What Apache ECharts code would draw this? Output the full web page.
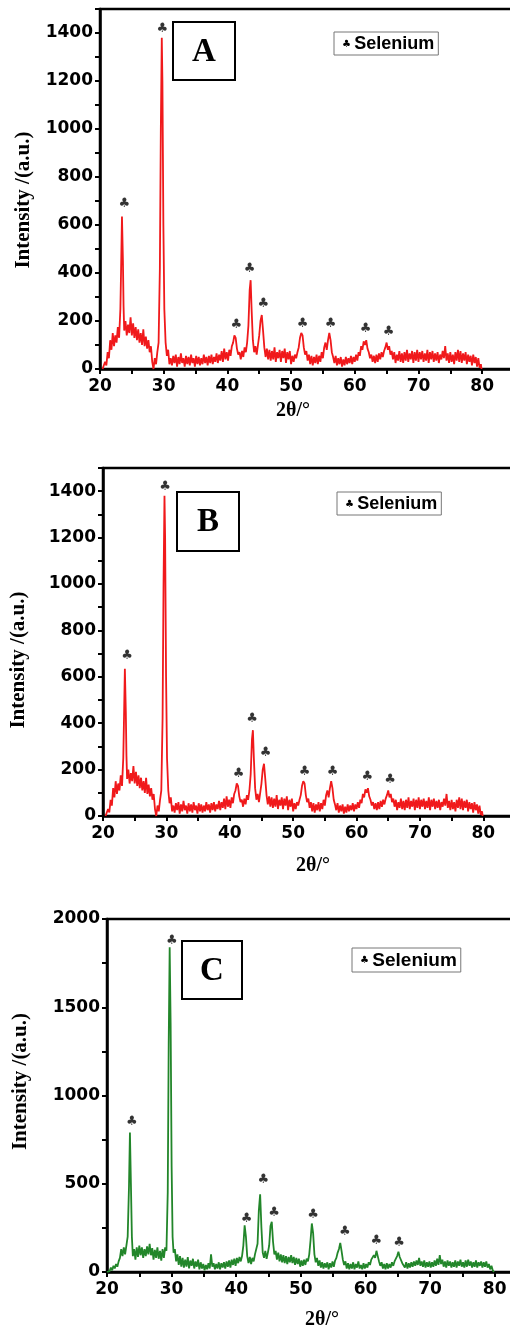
<!DOCTYPE html>
<html>
<head>
<meta charset="utf-8">
<script src="https://cdn.jsdelivr.net/npm/echarts/dist/echarts.min.js"></script>
<style>
html, body { margin: 0; padding: 0; background: #fff; }
#chart { width: 510px; height: 1340px; }
</style>
</head>
<body>
<div id="chart"></div>
<script>
// XRD scans, [2theta, intensity]
// panels A and B show the same scan
const scanAB = [
  [20.4,0],[20.6,5],[20.8,30],[21.0,15],[21.2,70],[21.4,45],[21.6,120],[21.8,80],[22.0,150],[22.2,95],
  [22.4,140],[22.6,110],[22.8,175],[23.0,130],[23.2,250],[23.3,400],[23.45,635],[23.6,450],[23.7,260],[23.8,160],
  [24.0,200],[24.2,140],[24.4,185],[24.6,150],[24.8,215],[25.0,140],[25.2,190],[25.4,130],[25.6,175],[25.8,120],
  [26.0,165],[26.2,110],[26.4,150],[26.6,100],[26.8,165],[27.0,95],[27.2,135],[27.4,85],[27.6,120],[27.8,70],
  [28.0,95],[28.2,30],[28.4,0],[28.6,45],[28.8,20],[29.0,70],[29.2,110],[29.4,420],[29.55,1000],[29.7,1380],
  [29.8,1200],[29.95,600],[30.1,250],[30.3,110],[30.5,55],[30.7,80],[30.9,20],[31.1,45],[31.3,15],[31.5,55],
  [31.7,25],[31.9,60],[32.1,10],[32.3,50],[32.5,20],[32.7,65],[32.9,25],[33.1,45],[33.3,10],[33.5,55],
  [33.7,20],[33.9,50],[34.1,15],[34.3,60],[34.5,25],[34.7,45],[34.9,10],[35.1,55],[35.3,20],[35.5,50],
  [35.7,15],[35.9,45],[36.1,20],[36.3,60],[36.5,25],[36.7,50],[36.9,15],[37.1,55],[37.3,25],[37.5,60],
  [37.7,20],[37.9,50],[38.1,30],[38.3,65],[38.5,25],[38.7,60],[38.9,35],[39.1,75],[39.3,30],[39.5,85],
  [39.7,40],[39.9,70],[40.1,35],[40.3,80],[40.5,55],[40.7,95],[40.9,110],[41.1,140],[41.3,130],[41.5,85],
  [41.7,60],[41.9,70],[42.1,40],[42.3,75],[42.5,50],[42.7,90],[42.9,70],[43.1,110],[43.3,180],[43.5,330],
  [43.65,370],[43.8,250],[44.0,120],[44.2,70],[44.4,95],[44.6,60],[44.8,100],[45.0,140],[45.2,200],[45.4,225],
  [45.6,160],[45.8,90],[46.0,50],[46.2,85],[46.4,40],[46.6,80],[46.8,35],[47.0,75],[47.2,40],[47.4,90],
  [47.6,30],[47.8,70],[48.0,45],[48.2,80],[48.4,30],[48.6,75],[48.8,45],[49.0,85],[49.2,25],[49.4,70],
  [49.6,40],[49.8,75],[50.0,20],[50.2,55],[50.4,30],[50.6,60],[50.8,45],[51.0,70],[51.2,90],[51.4,130],
  [51.6,150],[51.8,140],[52.0,90],[52.2,60],[52.4,75],[52.6,35],[52.8,60],[53.0,20],[53.2,55],[53.4,15],
  [53.6,50],[53.8,25],[54.0,60],[54.2,20],[54.4,55],[54.6,30],[54.8,70],[55.0,45],[55.2,90],[55.4,110],
  [55.6,80],[55.8,120],[56.0,150],[56.2,120],[56.4,70],[56.6,50],[56.8,25],[57.0,55],[57.2,15],[57.4,45],
  [57.6,20],[57.8,50],[58.0,10],[58.2,40],[58.4,15],[58.6,50],[58.8,20],[59.0,45],[59.2,25],[59.4,55],
  [59.6,20],[59.8,50],[60.0,30],[60.2,60],[60.4,35],[60.6,70],[60.8,55],[61.0,95],[61.2,80],[61.4,115],
  [61.6,100],[61.8,120],[62.0,85],[62.2,70],[62.4,45],[62.6,60],[62.8,30],[63.0,55],[63.2,25],[63.4,60],
  [63.6,30],[63.8,65],[64.0,40],[64.2,70],[64.4,50],[64.6,75],[64.8,90],[65.0,110],[65.2,80],[65.4,95],
  [65.6,60],[65.8,75],[66.0,40],[66.2,70],[66.4,25],[66.6,60],[66.8,35],[67.0,75],[67.2,30],[67.4,65],
  [67.6,25],[67.8,70],[68.0,35],[68.2,80],[68.4,30],[68.6,65],[68.8,40],[69.0,75],[69.2,25],[69.4,70],
  [69.6,35],[69.8,80],[70.0,30],[70.2,70],[70.4,40],[70.6,75],[70.8,30],[71.0,65],[71.2,35],[71.4,80],
  [71.6,25],[71.8,70],[72.0,40],[72.2,75],[72.4,30],[72.6,65],[72.8,35],[73.0,70],[73.2,25],[73.4,60],
  [73.6,40],[73.8,75],[74.0,45],[74.2,95],[74.4,35],[74.6,65],[74.8,25],[75.0,70],[75.2,30],[75.4,60],
  [75.6,20],[75.8,70],[76.0,35],[76.2,80],[76.4,30],[76.6,75],[76.8,25],[77.0,65],[77.2,35],[77.4,70],
  [77.6,20],[77.8,60],[78.0,30],[78.2,55],[78.4,15],[78.6,60],[78.8,25],[79.0,50],[79.2,10],[79.4,45],
  [79.6,5],[79.8,20],[79.9,0]
]

const scanC = [
  [20.0,0],[20.2,10],[20.4,5],[20.6,25],[20.8,10],[21.0,35],[21.2,20],[21.4,45],[21.6,30],[21.8,60],
  [22.0,80],[22.2,130],[22.4,90],[22.6,140],[22.8,100],[23.0,150],[23.2,200],[23.4,480],[23.55,790],[23.7,500],
  [23.85,200],[24.0,90],[24.2,130],[24.4,70],[24.6,140],[24.8,85],[25.0,150],[25.2,95],[25.4,140],[25.6,80],
  [25.8,130],[26.0,90],[26.2,145],[26.4,100],[26.6,160],[26.8,95],[27.0,135],[27.2,70],[27.4,125],[27.6,80],
  [27.8,140],[28.0,75],[28.2,120],[28.4,65],[28.6,130],[28.8,80],[29.0,140],[29.2,120],[29.4,450],[29.55,1300],
  [29.7,1840],[29.85,1400],[30.0,600],[30.15,200],[30.3,110],[30.5,130],[30.7,60],[30.9,100],[31.1,40],[31.3,90],
  [31.5,30],[31.7,80],[31.9,25],[32.1,70],[32.3,30],[32.5,85],[32.7,20],[32.9,65],[33.1,35],[33.3,75],
  [33.5,20],[33.7,60],[33.9,30],[34.1,70],[34.3,15],[34.5,55],[34.7,20],[34.9,45],[35.1,10],[35.3,40],
  [35.5,15],[35.7,50],[35.9,20],[36.1,100],[36.3,30],[36.5,50],[36.7,15],[36.9,45],[37.1,20],[37.3,55],
  [37.5,15],[37.7,50],[37.9,25],[38.1,55],[38.3,20],[38.5,60],[38.7,30],[38.9,65],[39.1,25],[39.3,70],
  [39.5,40],[39.7,75],[39.9,35],[40.1,80],[40.3,50],[40.5,85],[40.7,60],[40.9,90],[41.1,150],[41.3,265],
  [41.5,200],[41.7,90],[41.9,50],[42.1,85],[42.3,45],[42.5,80],[42.7,60],[42.9,100],[43.1,90],[43.3,160],
  [43.5,350],[43.7,440],[43.9,250],[44.1,110],[44.3,80],[44.5,120],[44.7,75],[44.9,110],[45.1,150],[45.3,260],
  [45.5,285],[45.7,170],[45.9,100],[46.1,120],[46.3,70],[46.5,110],[46.7,60],[46.9,100],[47.1,55],[47.3,95],
  [47.5,50],[47.7,90],[47.9,45],[48.1,85],[48.3,55],[48.5,95],[48.7,50],[48.9,85],[49.1,40],[49.3,80],
  [49.5,45],[49.7,75],[49.9,30],[50.1,65],[50.3,35],[50.5,70],[50.7,40],[50.9,75],[51.1,60],[51.3,100],
  [51.5,180],[51.7,275],[51.9,220],[52.1,100],[52.3,55],[52.5,80],[52.7,35],[52.9,65],[53.1,25],[53.3,55],
  [53.5,20],[53.7,50],[53.9,25],[54.1,55],[54.3,15],[54.5,50],[54.7,25],[54.9,60],[55.1,30],[55.3,65],
  [55.5,80],[55.7,110],[55.9,130],[56.1,165],[56.3,120],[56.5,70],[56.7,40],[56.9,60],[57.1,20],[57.3,50],
  [57.5,15],[57.7,45],[57.9,20],[58.1,55],[58.3,15],[58.5,45],[58.7,25],[58.9,60],[59.1,20],[59.3,40],
  [59.5,15],[59.7,50],[59.9,20],[60.1,45],[60.3,25],[60.5,55],[60.7,40],[60.9,70],[61.1,60],[61.3,95],
  [61.5,80],[61.7,120],[61.9,90],[62.1,60],[62.3,35],[62.5,55],[62.7,20],[62.9,45],[63.1,15],[63.3,50],
  [63.5,20],[63.7,45],[63.9,25],[64.1,55],[64.3,35],[64.5,60],[64.7,55],[64.9,90],[65.1,115],[65.3,85],
  [65.5,95],[65.7,50],[65.9,60],[66.1,25],[66.3,55],[66.5,20],[66.7,50],[66.9,25],[67.1,55],[67.3,30],
  [67.5,60],[67.7,35],[67.9,65],[68.1,40],[68.3,80],[68.5,35],[68.7,60],[68.9,30],[69.1,65],[69.3,25],
  [69.5,55],[69.7,30],[69.9,60],[70.1,25],[70.3,55],[70.5,30],[70.7,65],[70.9,35],[71.1,75],[71.3,40],
  [71.5,95],[71.7,45],[71.9,70],[72.1,30],[72.3,60],[72.5,25],[72.7,65],[72.9,35],[73.1,60],[73.3,25],
  [73.5,55],[73.7,30],[73.9,65],[74.1,25],[74.3,60],[74.5,35],[74.7,70],[74.9,30],[75.1,55],[75.3,25],
  [75.5,65],[75.7,30],[75.9,70],[76.1,35],[76.3,60],[76.5,25],[76.7,55],[76.9,30],[77.1,65],[77.3,25],
  [77.5,55],[77.7,35],[77.9,60],[78.1,25],[78.3,55],[78.5,30],[78.7,60],[78.9,25],[79.1,45],[79.3,15],
  [79.5,35],[79.7,10],[79.9,0]
]

// club marks above the selenium reflections
const peaksAB = [[23.8,690],[29.8,1420],[41.4,183],[43.5,418],[45.65,272],[51.8,190],[56.2,190],[61.7,168],[65.3,155]]
const peaksC = [[23.85,850],[30.05,1880],[41.6,305],[44.2,525],[45.85,335],[51.9,325],[56.8,230],[61.7,180],[65.2,165]]

const panelNames = ['A', 'B', 'C']
const yMax = [1500, 1500, 2000]
const yTickStep = [100, 100, 250]
const yLabelStep = [200, 200, 500]

const scans = [scanAB, scanAB, scanC]
const peaks = [peaksAB, peaksAB, peaksC]
const colors = ['#f0191b', '#f0191b', '#22862a']

const grids = [
  { left: 100, top: 9, width: 414, height: 360 },
  { left: 103, top: 468, width: 412, height: 348 },
  { left: 107, top: 919, width: 420, height: 353 }
]
const boxes = [
  { x: 173, y: 22, w: 62, h: 58 },
  { x: 177, y: 492, w: 62, h: 59 },
  { x: 182, y: 941, w: 60, h: 58 }
]
const legendPos = [
  { left: 334, top: 32, size: 18 },
  { left: 337, top: 492, size: 18 },
  { left: 352, top: 948, size: 19 }
]
const yNamePad = [[0, 22, 0, 0], [0, 36, 0, 0], [0, 0, 0, 28]]
const yNameGap = [66, 74, 76]
const xNamePad = [[0, 28, 0, 0], [0, 0, 0, 8], [0, 0, 0, 10]]
const xNameGap = [32, 40, 38]

const tickFont = { fontFamily: 'DejaVu Sans', fontWeight: 'bold', fontSize: 17, color: '#000' }
const nameFont = { fontFamily: 'Liberation Serif', fontWeight: 'bold', fontSize: 20, color: '#000' }

const chart = echarts.init(document.getElementById('chart'))

const option = {
  animation: false,
  backgroundColor: '#fff',
  grid: grids.map(g => ({
    left: g.left, top: g.top, width: g.width, height: g.height,
    outerBoundsMode: 'none',
    containLabel: false,
    show: true, borderColor: '#000', borderWidth: 2.5
  })),
  xAxis: grids.map((g, i) => ({
    type: 'value',
    gridIndex: i,
    min: 20,
    max: 85,
    interval: 5,
    axisLine: { show: true, lineStyle: { color: '#000', width: 2.5 } },
    axisTick: { show: true, length: 5, lineStyle: { color: '#000', width: 2 } },
    axisLabel: {
      ...tickFont,
      margin: 9,
      formatter: v => (v % 10 === 0 && v <= 80 ? v : '')
    },
    splitLine: { show: false },
    name: '2θ/°',
    nameLocation: 'middle',
    nameGap: xNameGap[i],
    nameTextStyle: { ...nameFont, padding: xNamePad[i] }
  })),
  yAxis: grids.map((g, i) => ({
    type: 'value',
    gridIndex: i,
    min: 0,
    max: yMax[i],
    interval: yTickStep[i],
    axisLine: { show: true, lineStyle: { color: '#000', width: 2.5 } },
    axisTick: { show: true, length: 5, lineStyle: { color: '#000', width: 2 } },
    axisLabel: {
      ...tickFont,
      margin: 7,
      formatter: v => (v % yLabelStep[i] === 0 ? v : '')
    },
    splitLine: { show: false },
    name: 'Intensity /(a.u.)',
    nameLocation: 'middle',
    nameGap: yNameGap[i],
    nameTextStyle: { ...nameFont, fontSize: 21, padding: yNamePad[i] }
  })),
  legend: legendPos.map(p => ({
    left: p.left,
    top: p.top,
    orient: 'horizontal',
    data: [{ name: 'Selenium', icon: 'circle', itemStyle: { opacity: 0 } }],
    itemWidth: 1,
    itemHeight: 1,
    padding: [3, 4, 2, 2],
    borderColor: '#777',
    borderWidth: 1,
    selectedMode: false,
    formatter: '{c|♣} {t|Selenium}',
    textStyle: {
      rich: {
        c: { fontFamily: 'DejaVu Sans', fontSize: 10, color: '#000' },
        t: { fontFamily: 'Liberation Sans', fontWeight: 'bold', fontSize: p.size, color: '#000' }
      }
    }
  })),
  graphic: boxes.flatMap((b, i) => [
    {
      type: 'rect',
      shape: { x: b.x, y: b.y, width: b.w, height: b.h },
      style: { fill: '#fff', stroke: '#000', lineWidth: 2 },
      z: 10
    },
    {
      type: 'text',
      x: b.x + b.w / 2,
      y: b.y + b.h / 2 + 1,
      style: {
        text: panelNames[i],
        fontFamily: 'Liberation Serif',
        fontWeight: 'bold',
        fontSize: 33,
        fill: '#000',
        align: 'center',
        verticalAlign: 'middle'
      },
      z: 11
    }
  ]),
  series: grids.flatMap((g, i) => [
    {
      type: 'line',
      name: 'Scan ' + panelNames[i],
      xAxisIndex: i,
      yAxisIndex: i,
      data: scans[i],
      showSymbol: false,
      symbol: 'none',
      lineStyle: { color: colors[i], width: 1.8 },
      itemStyle: { color: colors[i] },
      z: 3
    },
    {
      type: 'scatter',
      name: 'Selenium',
      xAxisIndex: i,
      yAxisIndex: i,
      data: peaks[i],
      symbolSize: 1,
      itemStyle: { color: 'transparent' },
      label: {
        show: true,
        position: 'inside',
        formatter: '♣',
        fontFamily: 'DejaVu Sans',
        fontSize: 13,
        color: '#000'
      },
      z: 4
    }
  ])
}

chart.setOption(option)
</script>
</body>
</html>
